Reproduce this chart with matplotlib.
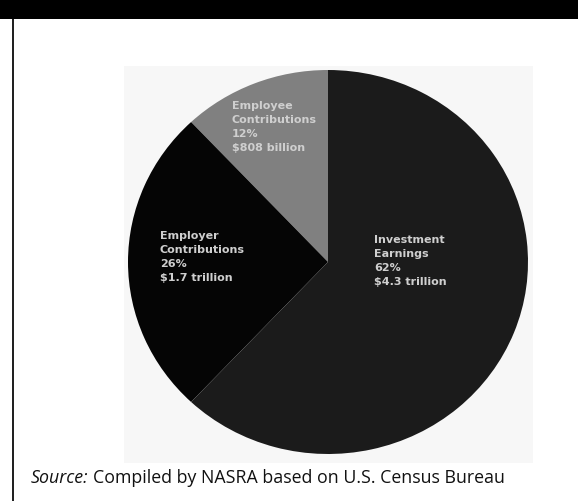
#!/usr/bin/env python3
"""Pie of public pension revenue sources (NASRA / Census), grayscale scan look."""

import matplotlib

matplotlib.use("Agg")
import matplotlib.pyplot as plt
from matplotlib.patches import Rectangle

# data
sources = ["Employee\nContributions", "Employer\nContributions", "Investment\nEarnings"]
shares = [12, 26, 62]
amounts = ["$808 billion", "$1.7 trillion", "$4.3 trillion"]
slice_colors = ["#808080", "#050505", "#1b1b1b"]
source_note = "Compiled by NASRA based on U.S. Census Bureau"

W, H = 578, 501
fig = plt.figure(figsize=(W / 100, H / 100), dpi=100)
fig.patch.set_facecolor("white")

# black band on top + left rule
fig.add_artist(Rectangle((0, 1 - 19 / H), 1, 19 / H, transform=fig.transFigure,
                         facecolor="black", edgecolor="none", zorder=-1))
fig.add_artist(Rectangle((12 / W, 0), 2 / W, 1 - 19 / H, transform=fig.transFigure,
                         facecolor="#222222", edgecolor="none", zorder=-1))
# pale backdrop of the pasted image
fig.add_artist(Rectangle((124 / W, 1 - 463 / H), 409 / W, 397 / H, transform=fig.transFigure,
                         facecolor="#f7f7f7", edgecolor="none", zorder=-1))

ax = fig.add_axes([128 / W, 1 - 454 / H, 400 / W, 384 / H])
ax.set_zorder(2)
ax.patch.set_alpha(0)
wedges, _ = ax.pie(shares, colors=slice_colors, startangle=90, counterclock=True,
                   radius=1.0, wedgeprops={"linewidth": 0})
ax.set_aspect("auto")
ax.set_xlim(-1, 1)
ax.set_ylim(-1, 1)
ax.axis("off")

label_pos = [(-0.48, 0.84), (-0.84, 0.16), (0.23, 0.14)]
for (x, y), name, pct, amt in zip(label_pos, sources, shares, amounts):
    ax.text(x, y, f"{name}\n{pct}%\n{amt}", ha="left", va="top", color="#cfcfcf",
            fontsize=8, fontweight="bold", linespacing=1.5, family="DejaVu Sans")

src = fig.text(31 / W, 1 - 483 / H, "Source:", fontsize=12.8, style="italic",
               family="Open Sans", color="#111111", va="baseline")
ax.annotate(source_note, xy=(1, 0), xycoords=src, xytext=(3.5, 0),
            textcoords="offset points", fontsize=12.8, family="Open Sans",
            color="#111111", va="bottom", annotation_clip=False)

fig.savefig("out.png", dpi=100)
